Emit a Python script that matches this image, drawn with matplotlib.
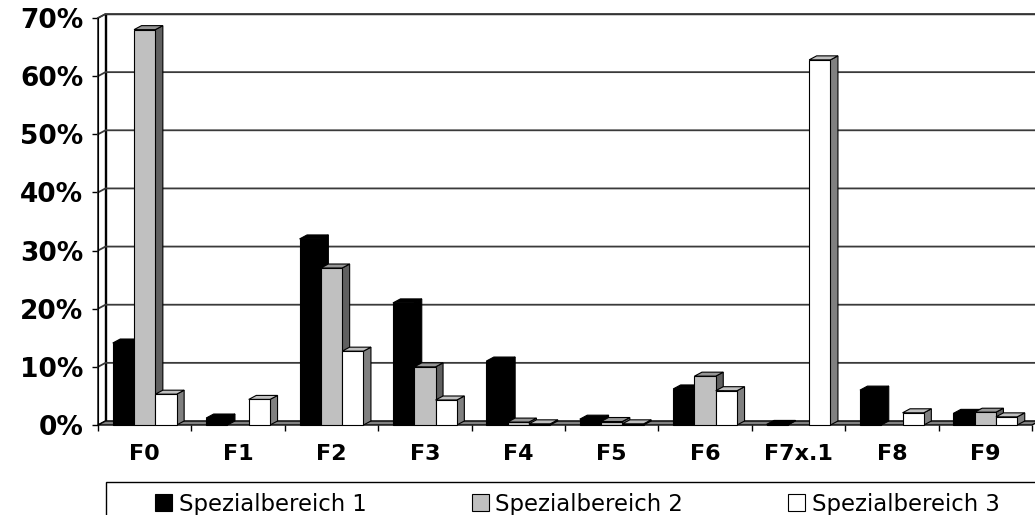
import matplotlib
matplotlib.use("Agg")
import matplotlib.pyplot as plt
from matplotlib.patches import Polygon, Patch, Rectangle

categories = ['F0', 'F1', 'F2', 'F3', 'F4', 'F5', 'F6', 'F7x.1', 'F8', 'F9']
series_names = ['Spezialbereich 1', 'Spezialbereich 2', 'Spezialbereich 3']
spez1 = [14.1, 1.2, 32.0, 21.0, 11.0, 1.0, 6.2, 0.1, 6.0, 2.0]
spez2 = [68.0, 0.0, 27.0, 10.0, 0.5, 0.6, 8.4, 0.0, 0.0, 2.2]
spez3 = [5.3, 4.4, 12.7, 4.3, 0.2, 0.2, 5.9, 62.8, 2.1, 1.4]
y_ticks = [0, 10, 20, 30, 40, 50, 60, 70]

# front / top / side colours of each series
faces = [
    ('#000000', '#000000', '#000000'),
    ('#c0c0c0', '#969696', '#606060'),
    ('#ffffff', '#c0c0c0', '#808080'),
]

W, H = 1035, 515
fig = plt.figure(figsize=(W / 100, H / 100), dpi=100)
ax = fig.add_axes([98 / W, (H - 425) / H, 934 / W, 407 / H])
ax.set_xlim(-0.5, len(categories) - 0.5)
ax.set_ylim(0, 70)

# depth of the pseudo-3D box, converted from pixels to data units
DX = 7.5 / (934 / len(categories))
DY = 4.0 / (407 / 70)

x_lo, x_hi = -0.5, len(categories) - 0.5
kw = dict(clip_on=False, lw=1.0, edgecolor='black')

# back wall, left wall and floor
ax.add_patch(Polygon([(x_lo + DX, DY), (x_hi + DX, DY), (x_hi + DX, 70 + DY),
                      (x_lo + DX, 70 + DY)], facecolor='white', zorder=1, **kw))
ax.add_patch(Polygon([(x_lo, 0), (x_lo + DX, DY), (x_lo + DX, 70 + DY), (x_lo, 70)],
                     facecolor='white', zorder=1, **kw))
for v in y_ticks[1:]:
    ax.plot([x_lo, x_lo + DX, x_hi + DX], [v, v + DY, v + DY], color='#3a3a3a',
            lw=1.3, clip_on=False, zorder=2)
ax.add_patch(Polygon([(x_lo, 0), (x_hi, 0), (x_hi + DX, DY), (x_lo + DX, DY)],
                     facecolor='#808080', zorder=3, **kw))

bw = 0.228
data = [spez1, spez2, spez3]
for j, vals in enumerate(data):
    front, top, side = faces[j]
    xs = [i + (j - 1) * bw for i in range(len(categories))]
    bars = ax.bar(xs, vals, width=bw, color=front, edgecolor='black', lw=0.8,
                  clip_on=False)
    for i, (rect, h) in enumerate(zip(bars, vals)):
        z = 10 + (i * 3 + j) * 0.1
        if h <= 0:
            rect.set_visible(False)
            continue
        x0 = xs[i] - bw / 2
        x1 = x0 + bw
        ax.add_patch(Polygon([(x1, 0), (x1 + DX, DY), (x1 + DX, h + DY), (x1, h)],
                             facecolor=side, edgecolor='black', lw=0.8,
                             clip_on=False, zorder=z))
        ax.add_patch(Polygon([(x0, h), (x1, h), (x1 + DX, h + DY), (x0 + DX, h + DY)],
                             facecolor=top, edgecolor='black', lw=0.8,
                             clip_on=False, zorder=z + 0.01))
        rect.set_zorder(z + 0.02)

for s in ['top', 'right', 'bottom']:
    ax.spines[s].set_visible(False)
ax.spines['left'].set_zorder(5)
ax.set_facecolor('none')

ax.set_yticks(y_ticks)
ax.set_yticklabels([f'{v}%' for v in y_ticks], fontsize=19, fontweight='bold')
ax.tick_params(axis='y', direction='out', length=4.5, width=1, pad=6)

ax.set_xticks(range(len(categories)))
ax.set_xticklabels(categories, fontsize=16, fontweight='bold')
ax.set_xticks([k - 0.5 for k in range(len(categories) + 1)], minor=True)
ax.tick_params(axis='x', which='major', length=0, pad=14)
ax.tick_params(axis='x', which='minor', direction='out', length=4.5, width=1)

# legend in a box running off the lower right edge
fig.add_artist(Rectangle((106 / W, -0.05), 1.0, (H - 482) / H + 0.05,
                         transform=fig.transFigure, facecolor='white',
                         edgecolor='black', lw=1.0, clip_on=False))
handles = [Patch(facecolor=f[0], edgecolor='black', lw=0.8) for f in faces]
fig.legend(handles, series_names, ncol=3, loc='center left',
           bbox_to_anchor=(146 / W, (H - 504) / H), frameon=False, fontsize=16.4,
           handlelength=0.75, handleheight=0.75, handletextpad=0.3,
           columnspacing=4.6, borderaxespad=0)

fig.savefig('out.png', dpi=100)
